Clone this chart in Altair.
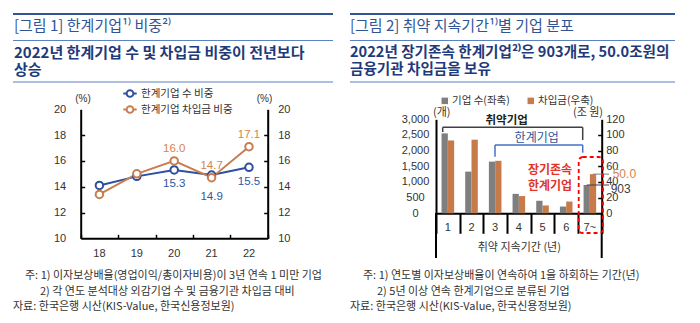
import altair as alt
import pandas as pd

# ---------------- data ----------------
years = ["18", "19", "20", "21", "22"]
firm_share = [14.1, 14.8, 15.3, 14.9, 15.5]
loan_share = [13.4, 15.0, 16.0, 14.7, 17.1]
share_series = ["한계기업 수 비중", "한계기업 차입금 비중"]

periods = ["1", "2", "3", "4", "5", "6", "7~"]
firm_counts = [2550, 1330, 1650, 620, 400, 215, 903]
loan_amounts = [93, 94, 67, 22, 10, 15, 50.0]
dist_series = ["기업 수(좌축)", "차입금(우축)"]

# ---------------- styles ----------------
W, H = 700, 323
KR = "Noto Sans CJK KR"
NUM = "Liberation Sans"
BLUE = "#2E4F9E"
ORANGE = "#C97D4E"
BLUE_LAB = "#2F56A6"
ORANGE_LAB = "#D4834A"
GRAY = "#7F7F7F"
BAR_OR = "#C77B4B"
HEAD = "#2F5597"
HEAD_LINE = "#5B80C4"
SUB = "#1F3A7A"
TXT = "#333333"

left_df = pd.DataFrame({
    "year": years * 2,
    "value": firm_share + loan_share,
    "series": [share_series[0]] * len(years) + [share_series[1]] * len(years),
})
firm_df = pd.DataFrame({"period": periods, "value": firm_counts, "series": dist_series[0]})
loan_df = pd.DataFrame({"period": periods, "value": loan_amounts, "series": dist_series[1]})

# ---------------- scales ----------------
def xL():
    return alt.Scale(type="band", domain=years, range=[80.7, 267.7], paddingInner=0, paddingOuter=0)

def yL():
    return alt.Scale(domain=[10, 20], range=[238.3, 109.3], nice=False, zero=False)

def xR():
    return alt.Scale(type="band", domain=periods, range=[436, 601.7], paddingInner=0, paddingOuter=0)

def yRc():
    return alt.Scale(domain=[0, 3000], range=[213.3, 119.3], nice=False)

def yRa():
    return alt.Scale(domain=[0, 120], range=[213.3, 119.3], nice=False)

def offs():
    return alt.Scale(domain=dist_series, paddingInner=0, paddingOuter=0.88)

stroke_scale = alt.Scale(domain=share_series, range=[BLUE, ORANGE])
fill_scale = alt.Scale(domain=dist_series, range=[GRAY, BAR_OR])

SYM = "M-1,0L-0.5,0M0.5,0L1,0M0.5,0A0.5,0.5,0,1,1,-0.5,0A0.5,0.5,0,1,1,0.5,0"
legend_left = alt.Legend(orient="none", legendX=122, legendY=85.5, title=None,
                         symbolType=SYM, symbolSize=180, symbolStrokeWidth=2,
                         symbolFillColor="white", labelFont=KR, labelFontSize=10.5,
                         labelColor=TXT, labelOffset=3, rowPadding=-1, padding=0,
                         direction="vertical")
legend_right = alt.Legend(orient="none", legendX=439.5, legendY=95.5, title=None,
                          direction="horizontal", symbolType="square", symbolSize=42,
                          symbolStrokeWidth=0, labelFont=KR, labelFontSize=10.5,
                          labelColor=TXT, labelOffset=2, columnPadding=15, padding=0)

dummy = pd.DataFrame({"k": [0]})


def hrule(x1, x2, y, color, w):
    return alt.Chart(dummy).mark_rule(color=color, strokeWidth=w).encode(
        x=alt.value(x1), x2=alt.value(x2), y=alt.value(y))


def vrule(x, y1, y2, color, w):
    return alt.Chart(dummy).mark_rule(color=color, strokeWidth=w).encode(
        x=alt.value(x), y=alt.value(y1), y2=alt.value(y2))


def label(text, x, y, size, color, weight="normal", align="left", font=KR):
    return alt.Chart(pd.DataFrame({"t": [text]})).mark_text(
        align=align, baseline="middle", fontSize=size, color=color,
        fontWeight=weight, font=font).encode(x=alt.value(x), y=alt.value(y), text="t:N")


layers = []

# ---------------- headers ----------------
for x1, x2 in [(13, 333), (350, 675)]:
    layers.append(hrule(x1, x2, 14, HEAD, 2))
    layers.append(hrule(x1, x2, 40.5, HEAD_LINE, 1))
    layers.append(hrule(x1, x2, 82, HEAD_LINE, 1))

layers += [
    label("[그림 1] 한계기업¹⁾ 비중²⁾", 14, 25.5, 15, HEAD),
    label("2022년 한계기업 수 및 차입금 비중이 전년보다", 14, 53, 15, SUB, "bold"),
    label("상승", 14, 69.5, 15, SUB, "bold"),
    label("[그림 2] 취약 지속기간¹⁾별 기업 분포", 350, 25.5, 15, HEAD),
    label("2022년 장기존속 한계기업²⁾은 903개로, 50.0조원의", 350, 53, 14.6, SUB, "bold"),
    label("금융기관 차입금을 보유", 350, 69.5, 14.6, SUB, "bold"),
]

# ---------------- notes ----------------
layers += [
    label("주: 1) 이자보상배율(영업이익/총이자비용)이 3년 연속 1 미만 기업", 25, 276, 11, TXT),
    label("2) 각 연도 분석대상 외감기업 수 및 금융기관 차입금 대비", 40, 292, 11, TXT),
    label("자료: 한국은행 시산(KIS-Value, 한국신용정보원)", 13, 307, 11, TXT),
    label("주: 1) 연도별 이자보상배율이 연속하여 1을 하회하는 기간(년)", 363, 276, 11, TXT),
    label("2) 5년 이상 연속 한계기업으로 분류된 기업", 377, 292, 11, TXT),
    label("자료: 한국은행 시산(KIS-Value, 한국신용정보원)", 350, 307, 11, TXT),
]

# ---------------- left chart ----------------
layers += [
    label("(%)", 83, 99, 10, TXT, align="center", font=NUM),
    label("(%)", 264.5, 99, 10, TXT, align="center", font=NUM),
]

line = alt.Chart(left_df).mark_line(strokeWidth=2).encode(
    x=alt.X("year:N", scale=xL(), axis=alt.Axis(
        orient="bottom", offset=238.3 - H, ticks=False, tickSize=0, domainColor="black",
        domainWidth=2, labelPadding=9, labelAngle=0, labelFont=NUM, labelFontSize=11,
        labelColor=TXT, title=None)),
    y=alt.Y("value:Q", scale=yL(), axis=alt.Axis(
        orient="left", offset=-80.7, ticks=False, tickSize=0, domainColor="black",
        domainWidth=2, labelPadding=15, values=[10, 12, 14, 16, 18, 20], labelFont=NUM,
        labelFontSize=11, labelColor=TXT, title=None)),
    stroke=alt.Stroke("series:N", scale=stroke_scale, legend=legend_left),
)

points = alt.Chart(left_df).mark_point(shape="circle", size=56, strokeWidth=2, filled=True,
                                       fill="white", opacity=1).encode(
    x=alt.X("year:N", scale=xL(), axis=alt.Axis(
        orient="top", offset=-238.3, labels=False, domain=False, ticks=True, tickSize=4,
        tickWidth=1.5, tickColor="black", tickBand="extent", title=None)),
    y=alt.Y("value:Q", scale=yL(), axis=alt.Axis(
        orient="right", offset=80.7 - W, labels=False, domain=False, ticks=True, tickSize=4,
        tickWidth=1.5, tickColor="black", values=[12, 14, 16, 18], title=None)),
    stroke=alt.Stroke("series:N", scale=stroke_scale, legend=legend_left),
)

lab_orange = alt.Chart(left_df).transform_filter(
    alt.datum.series == share_series[1]).transform_filter(
    alt.FieldOneOfPredicate(field="year", oneOf=["20", "21", "22"])).mark_text(
    dy=-11.5, fontSize=11.5, font=NUM, color=ORANGE_LAB, baseline="middle").encode(
    x=alt.X("year:N", scale=xL(), axis=None),
    y=alt.Y("value:Q", scale=yL(), axis=alt.Axis(
        orient="right", offset=267.7 - W, ticks=False, tickSize=0, domainColor="black",
        domainWidth=2, labelPadding=10, values=[10, 12, 14, 16, 18, 20], labelFont=NUM,
        labelFontSize=11, labelColor=TXT, title=None)),
    text=alt.Text("value:Q", format=".1f"),
)

lab_blue = alt.Chart(left_df).transform_filter(
    alt.datum.series == share_series[0]).transform_filter(
    alt.FieldOneOfPredicate(field="year", oneOf=["20", "22"])).mark_text(
    dy=14.5, fontSize=11.5, font=NUM, color=BLUE_LAB, baseline="middle").encode(
    x=alt.X("year:N", scale=xL(), axis=None),
    y=alt.Y("value:Q", scale=yL(), axis=alt.Axis(
        orient="left", offset=-267.7, labels=False, domain=False, ticks=True, tickSize=4,
        tickWidth=1.5, tickColor="black", values=[12, 14, 16, 18], title=None)),
    text=alt.Text("value:Q", format=".1f"),
)

lab_blue21 = alt.Chart(left_df).transform_filter(
    alt.datum.series == share_series[0]).transform_filter(
    alt.datum.year == "21").mark_text(
    dy=22, fontSize=11.5, font=NUM, color=BLUE_LAB, baseline="middle").encode(
    x=alt.X("year:N", scale=xL(), axis=None),
    y=alt.Y("value:Q", scale=yL(), axis=None),
    text=alt.Text("value:Q", format=".1f"),
)

layers += [line, points, lab_orange, lab_blue, lab_blue21]

# ---------------- right chart ----------------
bars_firm = alt.Chart(firm_df).mark_bar().encode(
    x=alt.X("period:N", scale=xR(), axis=alt.Axis(
        orient="bottom", offset=213.3 - H, ticks=False, tickSize=0, domainColor="black",
        domainWidth=2, labelPadding=8, labelAngle=0, labelFont=NUM, labelFontSize=11,
        labelColor=TXT, title="취약 지속기간 (년)", titleFont=KR, titleFontSize=11,
        titleFontWeight="normal", titleColor=TXT, titlePadding=9)),
    xOffset=alt.XOffset("series:N", scale=offs()),
    y=alt.Y("value:Q", scale=yRc(), axis=alt.Axis(
        orient="left", offset=-436, ticks=False, tickSize=0, domainColor="black",
        domainWidth=2, labelPadding=21, labelAlign="center",
        values=[0, 500, 1000, 1500, 2000, 2500, 3000], format=",d", labelFont=NUM,
        labelFontSize=11, labelColor=TXT, title=None)),
    fill=alt.Fill("series:N", scale=fill_scale, legend=legend_right),
)

bars_loan = alt.Chart(loan_df).mark_bar().encode(
    x=alt.X("period:N", scale=xR(), axis=alt.Axis(
        orient="bottom", offset=213.3 - H, labels=False, domain=False, ticks=True,
        tickSize=20, tickWidth=2, tickColor="black", tickBand="extent", title=None)),
    xOffset=alt.XOffset("series:N", scale=offs()),
    y=alt.Y("value:Q", scale=yRa(), axis=alt.Axis(
        orient="right", offset=601.7 - W, ticks=False, tickSize=0, domainColor="black",
        domainWidth=2, labelPadding=4, values=[0, 20, 40, 60, 80, 100, 120],
        labelFont=NUM, labelFontSize=11, labelColor=TXT, title=None)),
    fill=alt.Fill("series:N", scale=fill_scale, legend=legend_right),
)

loan_lead = alt.Chart(loan_df).transform_filter(alt.datum.period == "7~").mark_rule(
    color="#7F7F7F", strokeWidth=1).encode(
    x=alt.X("period:N", scale=xR(), bandPosition=0.63, axis=None),
    x2=alt.value(609),
    y=alt.Y("value:Q", scale=yRa(), axis=alt.Axis(
        orient="left", offset=-601.7, labels=False, domain=False, ticks=True, tickSize=4,
        tickWidth=1.5, tickColor="black", values=[20, 40, 60, 80, 100], title=None)),
)
loan_text = alt.Chart(loan_df).transform_filter(alt.datum.period == "7~").mark_text(
    align="left", baseline="middle", dx=11, fontSize=12, font=NUM, color=ORANGE_LAB).encode(
    x=alt.X("period:N", scale=xR(), bandPosition=1, axis=None),
    y=alt.Y("value:Q", scale=yRa(), axis=None),
    text=alt.Text("value:Q", format=".1f"),
)
firm_lead = alt.Chart(firm_df).transform_filter(alt.datum.period == "7~").mark_rule(
    color="#404040", strokeWidth=1).encode(
    x=alt.X("period:N", scale=xR(), bandPosition=0.37, axis=None),
    x2=alt.value(609),
    y=alt.Y("value:Q", scale=yRc(), axis=None),
)
firm_text = alt.Chart(firm_df).transform_filter(alt.datum.period == "7~").mark_text(
    align="left", baseline="middle", dx=9, dy=4, fontSize=12, font=NUM, color="#404040").encode(
    x=alt.X("period:N", scale=xR(), bandPosition=1, axis=None),
    y=alt.Y("value:Q", scale=yRc(), axis=None),
    text=alt.Text("value:Q", format=",d"),
)

layers += [bars_firm, bars_loan, loan_lead, loan_text, firm_lead, firm_text]

# decorations of right chart
layers += [
    vrule(436, 213, 258, "black", 2),
    vrule(601.7, 213, 258, "black", 2),
    label("(개)", 441.7, 113, 11, TXT, align="center"),
    label("(조 원)", 588, 113, 11, TXT, align="center"),
    # 취약기업 bracket
    hrule(442.7, 582.7, 127.3, "#404040", 1.5),
    vrule(442.7, 127.3, 132, "#404040", 1.5),
    vrule(582.7, 127.3, 140, "#404040", 1.5),
    label("취약기업", 506.7, 120.5, 11.5, "#222222", "bold", align="center"),
    # 한계기업 bracket
    hrule(495, 582.7, 145, "#4472C4", 1.5),
    vrule(495, 145, 156.7, "#4472C4", 1.5),
    vrule(582.7, 145, 152.7, "#4472C4", 1.5),
    label("한계기업", 536.7, 138.3, 12, HEAD, align="center"),
    label("장기존속", 550, 170, 12, "#E0352B", "bold", align="center"),
    label("한계기업", 550, 185.5, 12, "#E0352B", "bold", align="center"),
    alt.Chart(dummy).mark_rect(fill="white", fillOpacity=0, stroke="#FF0000", strokeWidth=1.8,
                               strokeDash=[4, 3], cornerRadius=4).encode(
        x=alt.value(578.7), x2=alt.value(603), y=alt.value(157), y2=alt.value(233)),
]

chart = alt.layer(*layers).resolve_scale(
    x="independent", y="independent", xOffset="independent",
    stroke="shared", fill="shared",
).properties(
    width=W, height=H, padding=0,
    autosize=alt.AutoSizeParams(type="none"),
).configure_view(stroke=None).configure_axis(grid=False)

chart.save("out.html", embed_options={"renderer": "svg", "actions": False})
